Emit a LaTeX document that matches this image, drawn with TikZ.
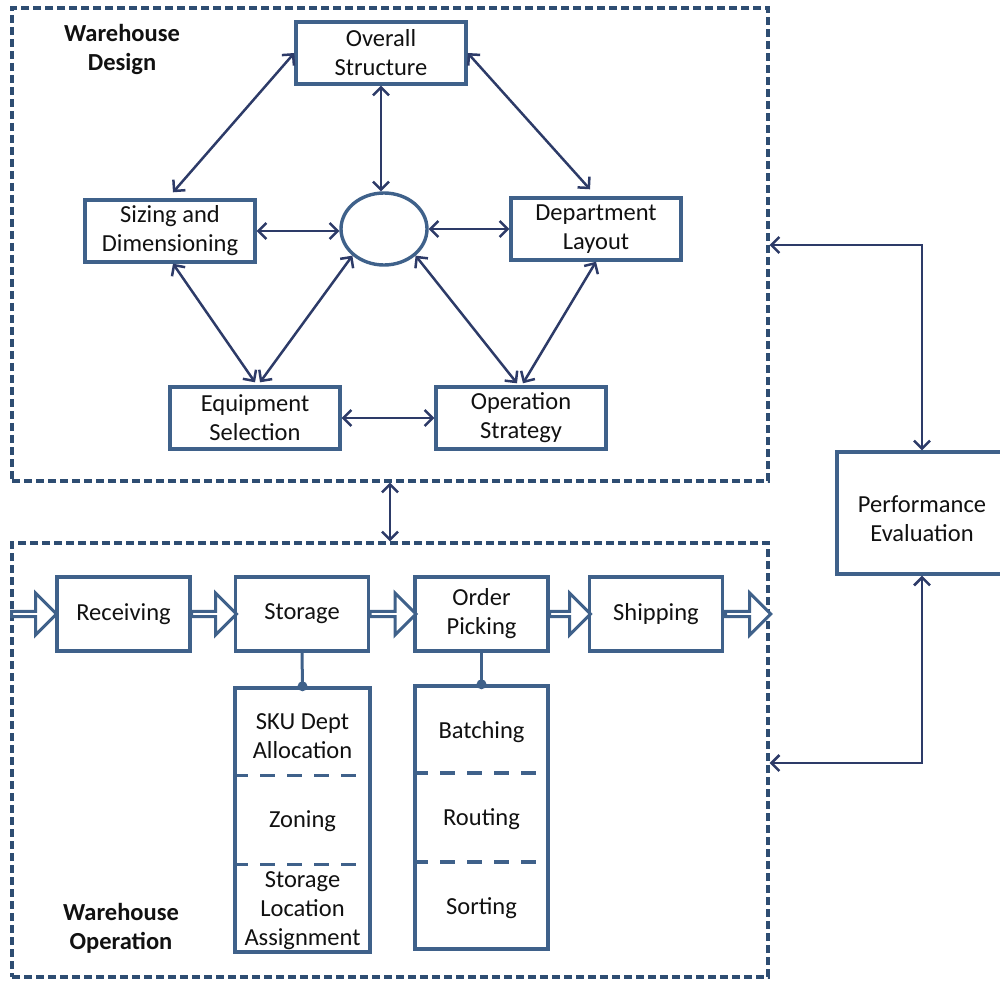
\documentclass[tikz,border=0pt]{standalone}
\usepackage{fontspec}
\setmainfont{Carlito}
\usetikzlibrary{arrows.meta,shapes.geometric,shapes.arrows,calc}
\definecolor{boxc}{HTML}{3F618A}
\definecolor{arrc}{HTML}{2D3B68}
\definecolor{framec}{HTML}{2E4D72}
\definecolor{txtc}{HTML}{111111}
\begin{document}
\begin{tikzpicture}[x=1pt,y=-1pt,
  every node/.style={font=\fontsize{24.5pt}{29pt}\selectfont, text=txtc},
  box/.style={draw=boxc, line width=3.4pt, fill=white, align=center, inner sep=0pt},
  wide/.style={box, minimum width=170pt, minimum height=62pt},
  flowbox/.style={box, minimum width=133pt, minimum height=74pt},
  frame/.style={draw=framec, line width=3.4pt, dash pattern=on 8pt off 4pt, inner sep=0pt},
  sep/.style={draw=boxc, line width=3.4pt, dash pattern=on 15pt off 12pt},
  dbl/.style={draw=arrc, line width=2.5pt,
    {Straight Barb[length=8pt,width=16pt]}-{Straight Barb[length=8pt,width=16pt]}},
  flowarr/.style={single arrow, draw=boxc, line width=3pt, fill=white,
    minimum width=42pt, single arrow head extend=11pt, inner sep=0pt},
  heading/.style={font=\fontsize{24.5pt}{29pt}\selectfont\bfseries, align=center},
  celltext/.style={align=center, inner sep=0pt}
]
\useasboundingbox (0,0) rectangle (1000,981);

% the two dashed regions
\node[frame, minimum width=756pt, minimum height=473pt] (fr1) at (390,244.5) {};
\node[frame, minimum width=756pt, minimum height=434pt] (fr2) at (390,760) {};

\node[heading] (hd1) at (122,49) {Warehouse\\Design};
\node[heading] (hd2) at (121,928) {Warehouse\\Operation};

% design components
\node[wide] (os) at (381,53) {Overall\\Structure};
\node[wide] (sd) at (170,231) {Sizing and\\Dimensioning};
\node[wide] (dl) at (596,229) {Department\\Layout};
\node[wide] (es) at (255,418) {Equipment\\Selection};
\node[wide] (ost) at (521,418) {Operation\\Strategy};
\node[draw=boxc, line width=3.4pt, ellipse, minimum width=86pt, minimum height=72pt, inner sep=0pt] (el) at (384,229) {};

\draw[dbl] (os.west) -- ($(sd.north)+(3,-6)$);
\draw[dbl] (os.east) -- ($(dl.north)+(-6,-7)$);
\draw[dbl] (os.south) -- (os.south |- el.north);
\draw[dbl] (sd.east) -- (sd.east -| el.west);
\draw[dbl] (el.east) -- (el.east -| dl.west);
\draw[dbl] ($(sd.south)+(3,0)$) -- ($(es.north)+(0,-3)$);
\draw[dbl] ($(es.north)+(5,-3)$) -- (el.south west);
\draw[dbl] (el.south east) -- ($(ost.north)+(-4,-2)$);
\draw[dbl] (dl.south) -- ($(ost.north)+(2,-2)$);
\draw[dbl] (es.east) -- (ost.west);

% link between design and operation
\draw[dbl] (fr1.south) -- (fr2.north);

% operation flow
\node[flowbox] (rc) at (123.5,614) {Receiving};
\node[flowbox] (st) at (302,614) {Storage};
\node[flowbox] (op) at (481.5,614) {Order\\Picking};
\node[flowbox] (sh) at (656,614) {Shipping};

\path (fr2.west |- rc.west) -- (rc.west) node[flowarr, midway, minimum height=45pt] (f1) {};
\path (rc.east) -- (st.west) node[flowarr, midway, minimum height=45pt] (f2) {};
\path (st.east) -- (op.west) node[flowarr, midway, minimum height=46pt] (f3) {};
\path (op.east) -- (sh.west) node[flowarr, midway, minimum height=41pt] (f4) {};
\path (sh.east) -- (sh.east -| fr2.east) node[flowarr, midway, minimum height=45pt] (f5) {};

% storage decisions
\node[box, minimum width=135pt, minimum height=264pt] (sc) at (302.5,820) {};
\draw[boxc, line width=3pt] (st.south) -- (sc.north);
\fill[boxc] (sc.north) circle (5pt);
\draw[sep] ($(sc.north west)!1/3!(sc.south west)$) -- ($(sc.north east)!1/3!(sc.south east)$);
\draw[sep] ($(sc.north west)!2/3!(sc.south west)$) -- ($(sc.north east)!2/3!(sc.south east)$);
\node[celltext] (sc1) at ($(sc.north)!0.185!(sc.south)$) {SKU Dept\\Allocation};
\node[celltext] (sc2) at ($(sc.north)!0.505!(sc.south)$) {Zoning};
\node[celltext] (sc3) at ($(sc.north)!0.84!(sc.south)$) {Storage\\Location\\Assignment};

% order picking decisions
\node[box, minimum width=133pt, minimum height=263pt] (oc) at (481.5,817.5) {};
\draw[boxc, line width=3pt] (op.south) -- (oc.north);
\fill[boxc] (oc.north) circle (5pt);
\draw[sep] ($(oc.north west)!1/3!(oc.south west)$) -- ($(oc.north east)!1/3!(oc.south east)$);
\draw[sep] ($(oc.north west)!2/3!(oc.south west)$) -- ($(oc.north east)!2/3!(oc.south east)$);
\node[celltext] (oc1) at ($(oc.north)!0.18!(oc.south)$) {Batching};
\node[celltext] (oc2) at ($(oc.north)!0.505!(oc.south)$) {Routing};
\node[celltext] (oc3) at ($(oc.north)!0.84!(oc.south)$) {Sorting};

% performance evaluation feedback
\node[box, minimum width=170pt, minimum height=122pt] (pe) at (922,513) {};
\node[celltext] (pet) at ($(pe.center)+(0,6)$) {Performance\\Evaluation};
\coordinate (c1) at (922,245);
\coordinate (c2) at (922,763);
\draw[dbl] (pe.north) |- (c1 -| fr1.east);
\draw[dbl] (pe.south) |- (c2 -| fr2.east);
\end{tikzpicture}
\end{document}
